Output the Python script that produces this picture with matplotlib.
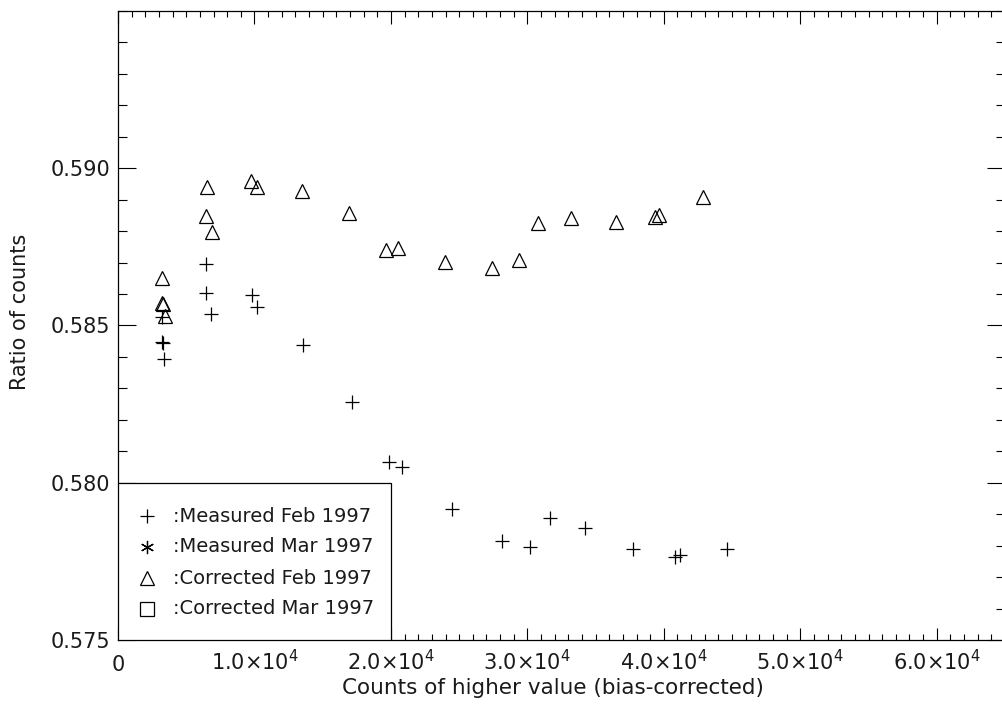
import matplotlib
matplotlib.use("Agg")
import matplotlib.pyplot as plt
from matplotlib.ticker import MultipleLocator, FixedLocator
from matplotlib.patches import Rectangle

# ---- data ----
meas_feb_x = [3223, 3223, 3297, 3370, 6447, 6447, 6813, 9817, 10183, 13553,
              17143, 19853, 20806, 24469, 28132, 30183, 31648, 34212, 37729,
              40806, 41172, 44615]
meas_feb_y = [0.58526, 0.58449, 0.58443, 0.58395, 0.58694, 0.58602, 0.58535,
              0.58596, 0.58560, 0.58439, 0.58258, 0.58067, 0.58051, 0.57917,
              0.57815, 0.57796, 0.57889, 0.57857, 0.57790, 0.57764, 0.57771,
              0.57790]

corr_feb_x = [3223, 3223, 3297, 3443, 6520, 6447, 6886, 9744, 10183, 13480,
              16923, 19634, 20513, 23956, 27399, 29377, 30769, 33187, 36484,
              39341, 39634, 42857]
corr_feb_y = [0.58650, 0.58573, 0.58567, 0.58529, 0.58939, 0.58847, 0.58796,
              0.58959, 0.58939, 0.58927, 0.58857, 0.58739, 0.58748, 0.58701,
              0.58682, 0.58707, 0.58825, 0.58841, 0.58828, 0.58844, 0.58851,
              0.58908]

legend_labels = [":Measured Feb 1997", ":Measured Mar 1997",
                 ":Corrected Feb 1997", ":Corrected Mar 1997"]
xtick_vals = [0, 10000, 20000, 30000, 40000, 50000, 60000]
xtick_labels = ["0", r"$1.0{\times}10^{4}$", r"$2.0{\times}10^{4}$",
                r"$3.0{\times}10^{4}$", r"$4.0{\times}10^{4}$",
                r"$5.0{\times}10^{4}$", r"$6.0{\times}10^{4}$"]
ytick_vals = [0.575, 0.580, 0.585, 0.590]
ytick_labels = ["0.575", "0.580", "0.585", "0.590"]

plt.rcParams['font.family'] = ['DejaVu Sans']
plt.rcParams['mathtext.fontset'] = 'dejavusans'
TXT = '#1a1a1a'
FS = 14
TFS = 15

W, H = 1002, 708
fig = plt.figure(figsize=(W / 100, H / 100), dpi=100)
L, R, T, B = 118, 1005, 11, 640
ax = fig.add_axes([L / W, (H - B) / H, (R - L) / W, (B - T) / H])

ax.plot(meas_feb_x, meas_feb_y, linestyle='none', marker='+', ms=9.5,
        mew=0.9, color='black')
ax.plot(corr_feb_x, corr_feb_y, linestyle='none', marker='^', ms=9.5,
        mew=0.9, mfc='none', mec='black')

ax.set_xlim(0, 65000)
ax.set_ylim(0.575, 0.595)
ax.xaxis.set_major_locator(FixedLocator(xtick_vals))
ax.set_xticklabels(xtick_labels)
ax.xaxis.set_minor_locator(MultipleLocator(1000))
ax.yaxis.set_major_locator(FixedLocator(ytick_vals))
ax.set_yticklabels(ytick_labels)
ax.yaxis.set_minor_locator(MultipleLocator(0.001))

ax.tick_params(axis='x', which='major', direction='in', length=9, width=0.8,
               top=True, bottom=True, labelsize=TFS, labelcolor=TXT, pad=22)
ax.tick_params(axis='x', which='minor', direction='in', length=4.5, width=0.8,
               top=True, bottom=True)
ax.tick_params(axis='y', which='major', direction='in', length=12.7, width=0.8,
               left=True, right=True, labelsize=TFS, labelcolor=TXT, pad=5.8)
ax.tick_params(axis='y', which='minor', direction='in', length=6.4, width=0.8,
               left=True, right=True)
for lab in ax.get_xticklabels():
    lab.set_va('baseline')

for s in ax.spines.values():
    s.set_linewidth(0.9)

ax.set_xlabel("Counts of higher value (bias-corrected)", fontsize=15.5,
              color=TXT)
ax.xaxis.label.set_va('center')
ax.xaxis.set_label_coords(0.4904, -0.0763)
ax.set_ylabel("Ratio of counts", fontsize=15, color=TXT)
ax.yaxis.label.set_va('center')
ax.yaxis.set_label_coords(-0.1105, 0.5215)

# legend box drawn in axes coordinates
lw_, lh_ = (391 - L) / (R - L), (B - 483) / (B - T)
ax.add_patch(Rectangle((0, 0), lw_, lh_, transform=ax.transAxes,
                       facecolor='white', edgecolor='black', lw=0.9, zorder=3))
row_px = [516, 547, 578, 609]
handles = [dict(marker='+', mfc='none'), dict(marker=(6, 2, 0), mfc='none'),
           dict(marker='^', mfc='none'), dict(marker='s', mfc='none')]
mx = (147 - L) / (R - L)
tx = (173 - L) / (R - L)
for lbl, rp, h in zip(legend_labels, row_px, handles):
    yy = (B - rp) / (B - T)
    ax.plot([mx], [yy], transform=ax.transAxes, linestyle='none',
            ms=9.5, mew=0.9, color='black', mec='black', zorder=4,
            clip_on=False, **h)
    ax.text(tx, yy, lbl, transform=ax.transAxes, fontsize=FS, color=TXT,
            va='center', ha='left', zorder=4)

fig.savefig("out.png", dpi=100)
